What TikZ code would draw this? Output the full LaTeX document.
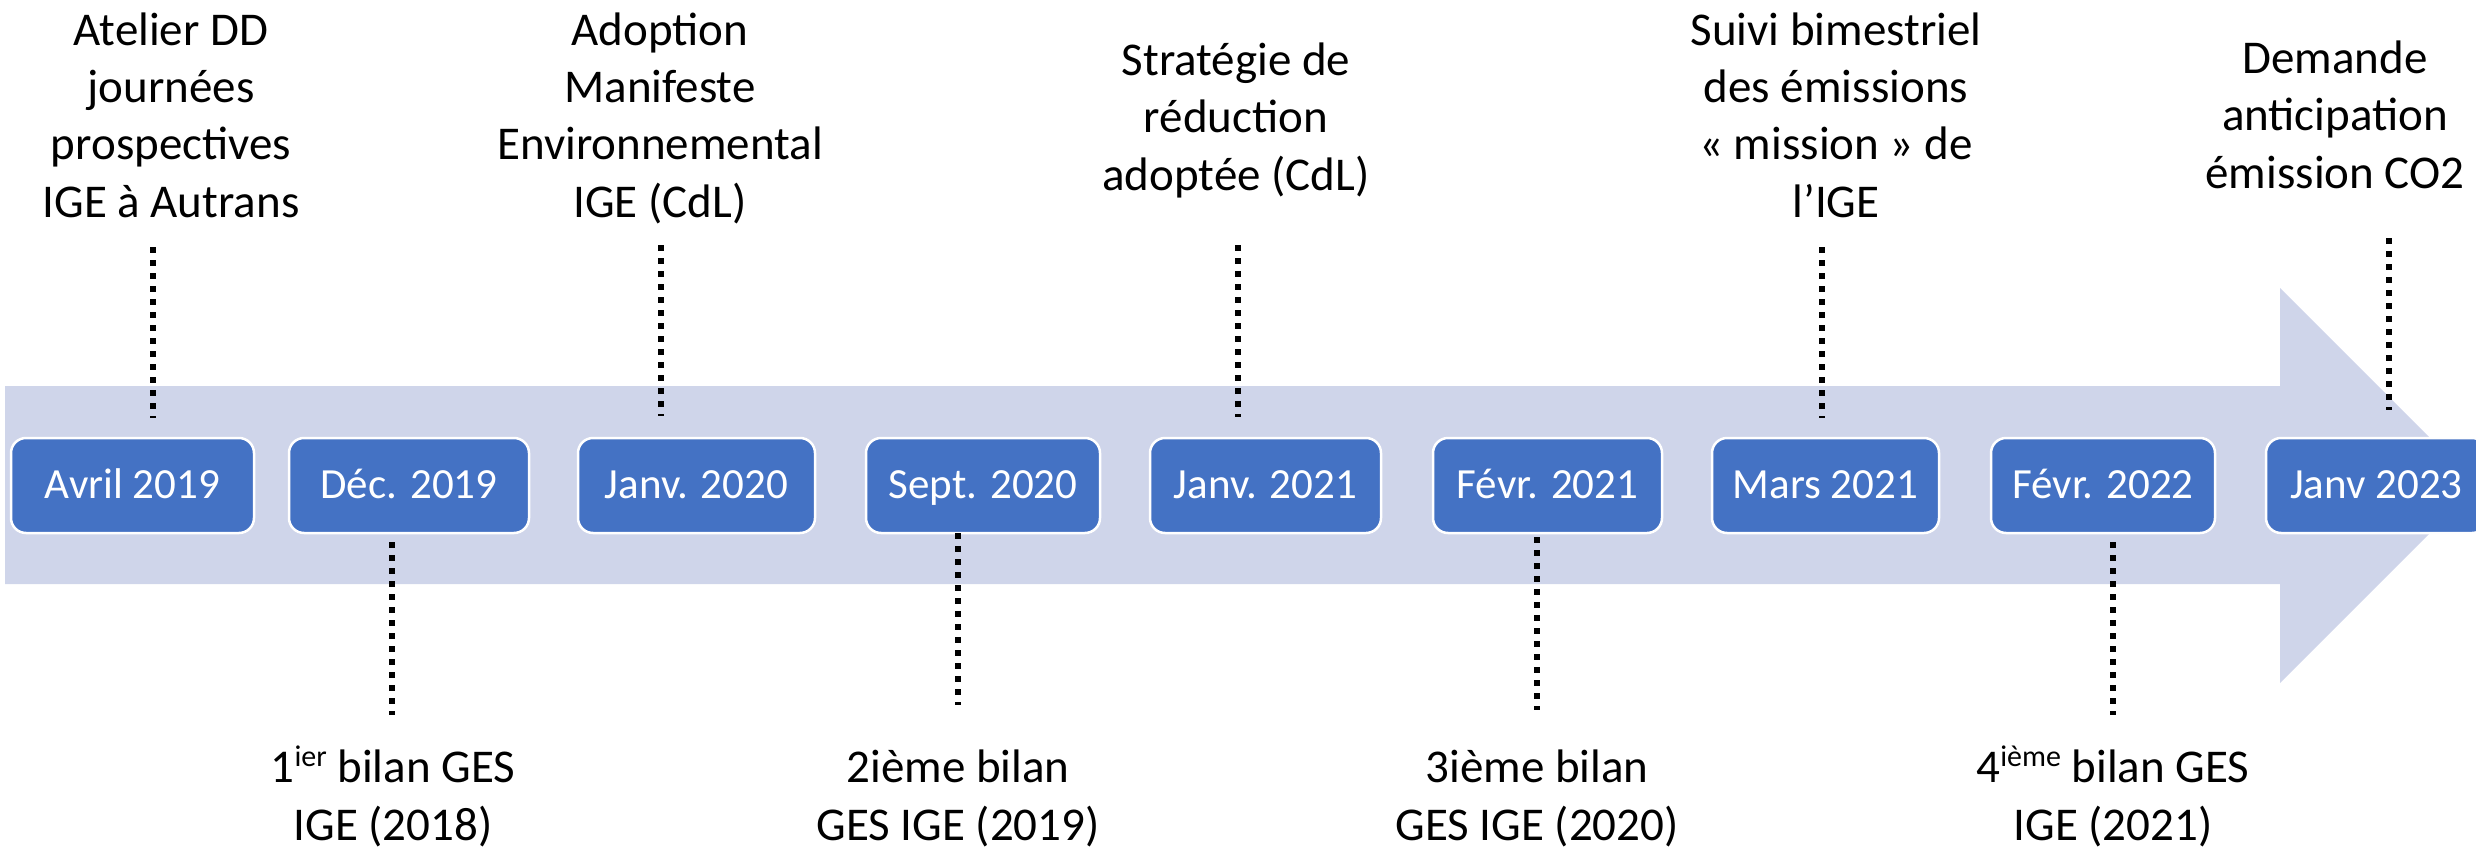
\documentclass[tikz,border=0pt]{standalone}
\usepackage{fontspec}
\setmainfont{Carlito}
\definecolor{arrowfill}{HTML}{CFD5EA}
\definecolor{boxfill}{HTML}{4472C4}
\tikzset{
  datebox/.style={draw=white, line width=2.5pt, fill=boxfill, rounded corners=15pt,
    minimum height=95pt, inner sep=0pt, text=white, text height=28pt, text depth=3pt,
    font=\fontsize{43}{52}\selectfont},
  lbl/.style={align=center, anchor=base, inner sep=0pt, text=black,
    font=\fontsize{47}{57.3}\selectfont},
  dotline/.style={line width=5.5pt, dash pattern=on 6pt off 7pt, black},
}
\newcommand{\supx}[1]{\raisebox{16pt}{\fontsize{30}{30}\selectfont #1}}
\begin{document}
\begin{tikzpicture}[x=1pt,y=-1pt]
\useasboundingbox (0,0) rectangle (2476,848);
% big arrow
\fill[arrowfill] (5,386) -- (2280,386) -- (2280,288) -- (2477.5,485.5)
  -- (2280,683) -- (2280,584) -- (5,584) -- cycle;
% date boxes
\node[datebox, minimum width=243pt] (b1) at (132.5,485.5) {Avril 2019};
\node[datebox, minimum width=240pt] (b2) at (409,485.5) {Déc. 2019};
\node[datebox, minimum width=237pt] (b3) at (696.5,485.5) {Janv. 2020};
\node[datebox, minimum width=234pt] (b4) at (983,485.5) {Sept. 2020};
\node[datebox, minimum width=231pt] (b5) at (1265.5,485.5) {Janv. 2021};
\node[datebox, minimum width=229pt] (b6) at (1547.5,485.5) {Févr. 2021};
\node[datebox, minimum width=227pt] (b7) at (1825.5,485.5) {Mars 2021};
\node[datebox, minimum width=224pt] (b8) at (2103,485.5) {Févr. 2022};
\node[datebox, minimum width=221pt] (b9) at (2376.5,485.5) {Janv 2023};
% labels above (anchored at the baseline of their last line)
\node[lbl] (l1) at (171,217) {Atelier DD\\journées\\prospectives\\IGE à Autrans};
\node[lbl] (l3) at (660,217) {Adoption\\Manifeste\\Environnemental\\IGE (CdL)};
\node[lbl] (l5) at (1236,190) {Stratégie de\\réduction\\adoptée (CdL)};
\node[lbl] (l7) at (1836,217) {Suivi bimestriel\\des émissions\\« mission » de\\l’IGE};
\node[lbl] (l9) at (2335,188) {Demande\\anticipation\\émission CO2};
% labels below
\node[lbl] (l2) at (393,840) {1\supx{ier} bilan GES\\IGE (2018)};
\node[lbl] (l4) at (958,840) {2ième bilan\\GES IGE (2019)};
\node[lbl] (l6) at (1537,840) {3ième bilan\\GES IGE (2020)};
\node[lbl] (l8) at (2113,840) {4\supx{ième} bilan GES\\IGE (2021)};
% dotted connectors
\coordinate (d1a) at (153,247);  \coordinate (d1b) at (153,418);
\coordinate (d3a) at (661,245);  \coordinate (d3b) at (661,416);
\coordinate (d5a) at (1238,245); \coordinate (d5b) at (1238,417);
\coordinate (d7a) at (1822,247); \coordinate (d7b) at (1822,418);
\coordinate (d9a) at (2389,238); \coordinate (d9b) at (2389,410);
\coordinate (d2a) at (392,542);  \coordinate (d2b) at (392,715);
\coordinate (d4a) at (958,533);  \coordinate (d4b) at (958,705);
\coordinate (d6a) at (1537,537); \coordinate (d6b) at (1537,710);
\coordinate (d8a) at (2113,542); \coordinate (d8b) at (2113,715);
\foreach \i in {1,...,9} {\draw[dotline] (d\i a) -- (d\i b);}
\end{tikzpicture}
\end{document}
